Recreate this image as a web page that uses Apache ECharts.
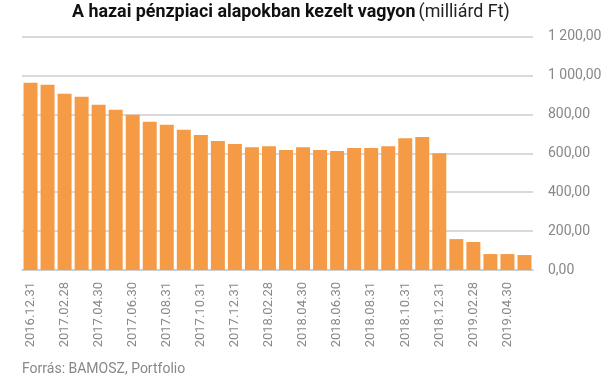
<!DOCTYPE html>
<html><head><meta charset="utf-8">
<script src="https://cdn.jsdelivr.net/npm/echarts@6/dist/echarts.min.js"></script>
<style>html,body{margin:0;padding:0;background:#fff}#c{width:607px;height:380px}</style>
</head><body><div id="c"></div>
<script>
const categories = ["2016.12.31","2017.01.31","2017.02.28","2017.03.31","2017.04.30","2017.05.31","2017.06.30","2017.07.31","2017.08.31","2017.09.30","2017.10.31","2017.11.30","2017.12.31","2018.01.31","2018.02.28","2018.03.31","2018.04.30","2018.05.31","2018.06.30","2018.07.31","2018.08.31","2018.09.30","2018.10.31","2018.11.30","2018.12.31","2019.01.31","2019.02.28","2019.03.31","2019.04.30","2019.05.31"];
const values = [963,953,906,891,850,824,798,762,747,721,694,663,648,632,637,617,632,617,612,627,627,637,678,684,601,159,144,82,82,77];
const yTicks = [0,200,400,600,800,1000,1200];

function fmt(v){
  const s = Math.round(v).toString().replace(/\B(?=(\d{3})+(?!\d))/g,' ');
  return s + ',00';
}
const chart = echarts.init(document.getElementById('c'));
chart.setOption({
  animation:false,
  graphic:[
    {type:'text',left:72,top:3,scaleX:0.94,originX:0,
     style:{
      text:'{b|A hazai pénzpiaci alapokban kezelt vagyon} {n|(milliárd Ft)}',
      rich:{
        b:{fontFamily:'Roboto, sans-serif',fontWeight:'bold',fontSize:19,fill:'#111'},
        n:{fontFamily:'Roboto, sans-serif',fontWeight:'normal',fontSize:19,fill:'#222'}
      }}},
    {type:'text',left:22,top:362,style:{text:'Forrás: BAMOSZ, Portfolio',fill:'#888',font:'14px Roboto, sans-serif'}}
  ],
  grid:{left:22,right:74,top:36.7,bottom:110,containLabel:false},
  xAxis:{
    type:'category',data:categories,
    axisLine:{lineStyle:{color:'#ccc',width:1.5}},
    axisTick:{show:false},
    axisLabel:{rotate:90,interval:1,color:'#888',fontFamily:'Roboto',fontSize:13,margin:12}
  },
  yAxis:{
    type:'value',position:'right',min:0,max:1200,interval:200,
    axisLine:{show:false},axisTick:{show:false},
    splitLine:{lineStyle:{color:'#ccc',width:1.5}},
    axisLabel:{color:'#888',fontFamily:'Roboto',fontSize:14,margin:15,formatter:fmt}
  },
  series:[{type:'bar',data:values,barCategoryGap:'18%',itemStyle:{color:'#F69B45'}}]
});
</script></body></html>
